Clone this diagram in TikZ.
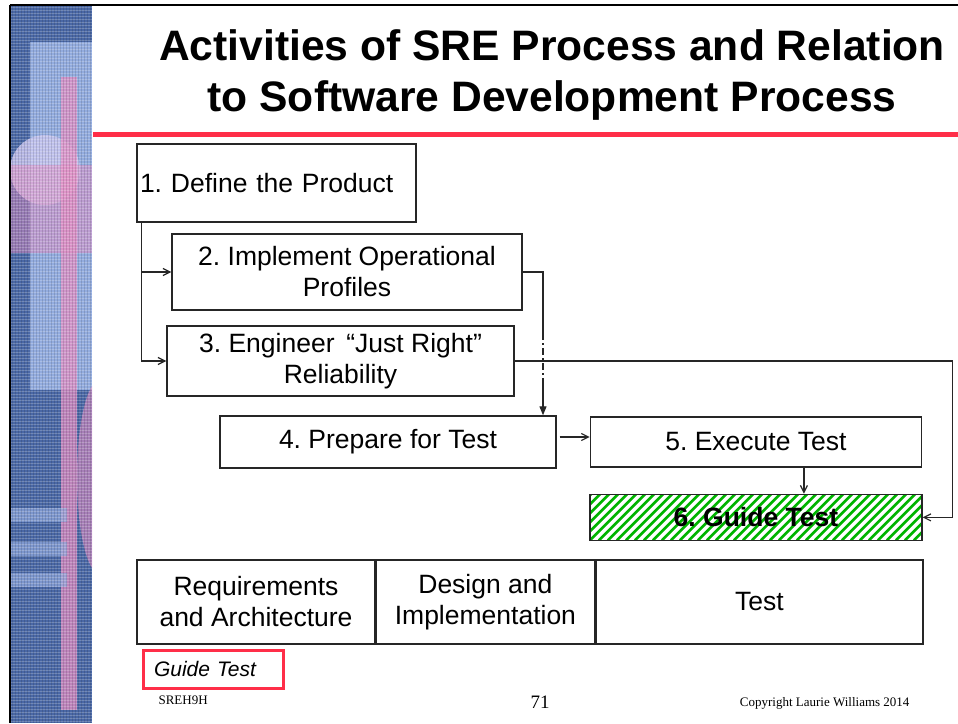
\documentclass[tikz,border=0pt]{standalone}
\usepackage{fontspec}
\setmainfont{Liberation Sans}
\newfontfamily\timesfont{Liberation Serif}
\usetikzlibrary{positioning, arrows.meta}
\frenchspacing
\definecolor{stripblue}{HTML}{4A68A6}
\definecolor{lightblue}{HTML}{93ACDF}
\definecolor{stripink}{HTML}{E58FC4}
\definecolor{palecircle}{HTML}{C9C6F0}
\definecolor{titlered}{HTML}{FF2E48}
\definecolor{hatchgreen}{HTML}{00B400}
\definecolor{boxline}{HTML}{262626}

\begin{document}
\begin{tikzpicture}[
      x=1pt, y=-1pt, >={Straight Barb[length=7pt, width=7pt]},
      titletext/.style={font=\fontsize{42.6}{50}\selectfont\bfseries, anchor=base},
      stepbox/.style={rectangle, draw=boxline, line width=1.4pt, inner sep=0pt,
        font=\fontsize{26.5}{31}\selectfont, align=center},
      phasebox/.style={stepbox, minimum height=84pt},
      hatchbox/.style={stepbox, font=\fontsize{26.5}{31}\selectfont\bfseries,
        path picture={\foreach \k in {-6,...,40}
          \draw[hatchgreen, line width=2.6pt] ([xshift=\k*9pt]path picture bounding box.south west) -- ++(50,-50);}},
      conn/.style={->, line width=1.2pt, color=boxline},
      footnote/.style={font=\timesfont\fontsize{13}{15}\selectfont, anchor=base}
    ]
    \useasboundingbox (0,0) rectangle (958,723);
    \fill[white] (0,0) rectangle (958,723);
    % Side strip
    \fill[stripblue] (10,5) rectangle (92,723);
    \fill[lightblue] (30,42) rectangle (92,390);
    \fill[palecircle, opacity=0.85] (45,170) circle[radius=35pt];
    \fill[stripink, opacity=0.5] (10,165) rectangle (92,253);
    \fill[stripink, opacity=0.75] (61,77) rectangle (77,710);
    \begin{scope}
      \clip (10,5) rectangle (92,723);
      \fill[stripink, opacity=0.6] (100,477) ellipse[x radius=23pt, y radius=97pt];
    \end{scope}
    \foreach \yy in {508,542,573}
      \fill[lightblue, opacity=0.7] (10,\yy) rectangle (67,\yy+14);
    \foreach \yy in {7,10,...,721}
      \draw[white, opacity=0.22, line width=0.9pt] (10,\yy) -- (92,\yy);
    \foreach \xx in {12,15,...,90}
      \draw[black, opacity=0.12, line width=0.9pt] (\xx,5) -- (\xx,723);
    \draw[line width=2pt] (10,5) -- (958,5);
    \draw[line width=2pt] (10,5) -- (10,723);
    % Title
    \node[titletext] (title1) at (552,60) {Activities of SRE Process and Relation};
    \node[titletext] (title2) at (552,111) {to Software Development Process};
    \draw[titlered, line width=5pt] (93,134) -- (958,134);
    % SRE activities
    \node[stepbox, minimum width=279pt, minimum height=78pt, text width=273pt, align=left] (b1) at (276.5,183) {1. Define the Product};
    \node[stepbox, minimum width=350pt, minimum height=76pt] (b2) at (347,272) {2. Implement Operational\\Profiles};
    \node[stepbox, minimum width=347pt, minimum height=70pt] (b3) at (340.5,361) {3. Engineer \,“Just Right”\\Reliability};
    \node[stepbox, minimum width=336pt, minimum height=52pt] (b4) at (388,442) {4. Prepare for Test};
    \node[stepbox, minimum width=331pt, minimum height=50pt, right=33pt of b4] (b5) {5. Execute Test};
    \node[hatchbox, minimum width=332pt, minimum height=46pt, below=26pt of b5] (b6) {6. Guide Test};
    \coordinate (d1) at (543,333);
    \coordinate (d2) at (543,380);
    \draw[conn] ([xshift=5pt]b1.south west) |- (b2.west);
    \draw[conn] ([xshift=5pt]b1.south west) |- (b3.west);
    \draw[line width=1.2pt, color=boxline] (b2.east) -| (d1);
    \draw[line width=1.2pt, color=boxline, dash pattern=on 7pt off 3pt on 2pt off 3pt] (d1) -- (d2);
    \draw[-{Triangle[length=9pt, width=7pt]}, line width=1.2pt, color=boxline] (d2) -- (d2 |- b4.north);
    \draw[conn] (b3.east) -| ([xshift=30pt]b6.east) -- (b6.east);
    \draw[conn] ([xshift=3pt, yshift=5pt]b4.east) -- ([yshift=5pt]b5.west);
    \draw[conn] ([xshift=48pt]b5.south) -- ([xshift=48pt]b6.north);
    % Development phases
    \node[phasebox, minimum width=238pt] (t1) at (256,602) {Requirements\\and Architecture};
    \node[phasebox, minimum width=218pt, right=0pt of t1] (t2) {Design and\\Implementation};
    \node[phasebox, minimum width=327pt, right=0pt of t2] (t3) {Test};
    % Footer
    \node[draw=titlered, line width=3pt, minimum width=140pt, minimum height=38pt, inner sep=0pt,
      text width=118pt, align=left, font=\fontsize{21}{25}\selectfont\itshape] (gt) at (213,669) {Guide Test};
    \node[footnote, anchor=base west] (slide) at (155,704) {SREH9H};
    \node[footnote, font=\timesfont\fontsize{19}{22}\selectfont] (page) at (540,708) {71};
    \node[footnote, anchor=base east] (copy) at (913,706) {Copyright Laurie Williams 2014};
\end{tikzpicture}
\end{document}
